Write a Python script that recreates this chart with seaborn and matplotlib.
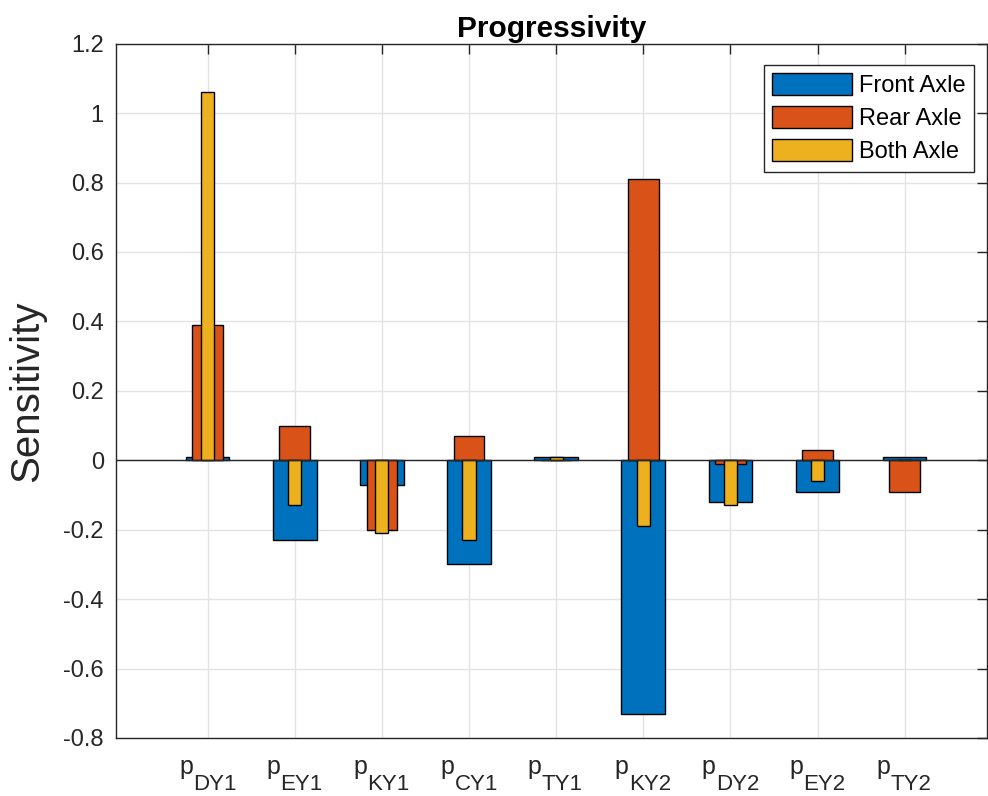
import matplotlib
matplotlib.use("Agg")
import matplotlib.pyplot as plt
import matplotlib.transforms as mtransforms
import seaborn as sns
import pandas as pd

# ---- data ----
param_base = "p"
param_subs = ["DY1", "EY1", "KY1", "CY1", "TY1", "KY2", "DY2", "EY2", "TY2"]
front_axle = [0.01, -0.23, -0.07, -0.30, 0.01, -0.73, -0.12, -0.09, 0.01]
rear_axle = [0.39, 0.10, -0.20, 0.07, 0.00, 0.81, -0.01, 0.03, -0.09]
both_axle = [1.06, -0.13, -0.21, -0.23, 0.01, -0.19, -0.13, -0.06, 0.00]
series_names = ["Front Axle", "Rear Axle", "Both Axle"]
ytick_values = [-0.8, -0.6, -0.4, -0.2, 0, 0.2, 0.4, 0.6, 0.8, 1, 1.2]
ytick_labels = ["-0.8", "-0.6", "-0.4", "-0.2", "0", "0.2", "0.4", "0.6", "0.8", "1", "1.2"]

sns.set_theme(style="white")
plt.rcParams["font.family"] = ["Liberation Sans", "DejaVu Sans"]

colors = ["#0072BD", "#D95319", "#EDB120"]
widths = [0.5, 0.35, 0.15]
series = [front_axle, rear_axle, both_axle]

fig = plt.figure(figsize=(9.88, 7.96), dpi=100)
ax = fig.add_axes([0.1177, 0.0729, 0.8813, 0.8722])

for name, vals, c, w in zip(series_names, series, colors, widths):
    df = pd.DataFrame({"param": param_subs, "value": vals})
    sns.barplot(data=df, x="param", y="value", order=param_subs, color=c, width=w,
                saturation=1, edgecolor="black", linewidth=1, label=name, ax=ax,
                errorbar=None, zorder=2)

ax.axhline(0, color="#262626", lw=1.0, zorder=3)

ax.set_xlim(-1.048, 8.945)
ax.set_ylim(-0.8, 1.2)
ax.set_yticks(ytick_values)
ax.set_yticklabels(ytick_labels)
ax.set_xticks(range(len(param_subs)))
ax.set_xticklabels([""] * len(param_subs))
ax.set_xlabel("")
ax.set_ylabel("Sensitivity", fontsize=29, labelpad=12, color="#262626")
ax.set_title("Progressivity", fontsize=21.5, fontweight="bold", pad=5, color="black")

# x tick labels: base letter with large subscript
xtrans = ax.get_xaxis_transform()
for i, sub in enumerate(param_subs):
    tp = mtransforms.offset_copy(xtrans, fig=fig, x=-10.5, y=-26, units="points")
    ts = mtransforms.offset_copy(xtrans, fig=fig, x=-10.5, y=-37.4, units="points")
    ax.text(i, 0, param_base, transform=tp, ha="right", va="baseline",
            fontsize=18, color="#262626", clip_on=False)
    ax.text(i, 0, sub, transform=ts, ha="left", va="baseline",
            fontsize=16, color="#262626", clip_on=False)

ax.grid(True, color="#e3e3e3", lw=1.0, zorder=0)
ax.set_axisbelow(True)
for s in ax.spines.values():
    s.set_visible(True)
    s.set_color("#262626")
    s.set_linewidth(1.0)
ax.tick_params(axis="both", direction="in", length=7, width=1, color="#262626",
               top=True, right=True, labelsize=17, colors="#262626")
ax.tick_params(axis="y", pad=9)

leg = ax.legend(loc="upper right", bbox_to_anchor=(0.9855, 0.9693), borderaxespad=0,
                fontsize=17, fancybox=False, framealpha=1, edgecolor="#262626",
                handlelength=3.4, handleheight=1.05, handletextpad=0.3,
                labelspacing=0.38, borderpad=0.35)
leg.get_frame().set_linewidth(1.0)
for t in leg.get_texts():
    t.set_color("black")

fig.savefig("out.png", dpi=100)
